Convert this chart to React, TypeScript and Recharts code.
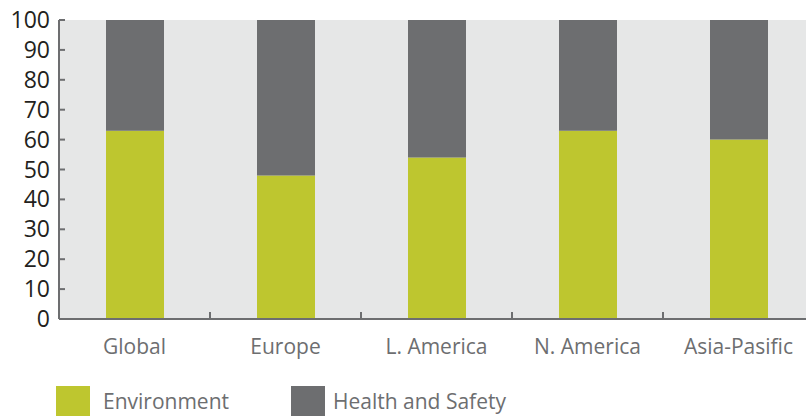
import React from "react"
import { BarChart, Bar, XAxis, YAxis, CartesianGrid, Legend } from "recharts"

const regions = ["Global", "Europe", "L. America", "N. America", "Asia-Pasific"]
const environment = [63, 48, 54, 63, 60]
const healthSafety = [37, 52, 46, 37, 40]
const yTicks = [0, 10, 20, 30, 40, 50, 60, 70, 80, 90, 100]

const series = [
  { key: "environment", name: "Environment", color: "#bec62f" },
  { key: "healthSafety", name: "Health and Safety", color: "#6d6e70" },
]

const data = regions.map((region, i) => ({
  region,
  environment: environment[i],
  healthSafety: healthSafety[i],
}))

const W = 820
const H = 416
const M = { top: 20, right: 6, left: 0, bottom: 0 }
const Y_W = 59
const bandW = (W - M.left - M.right - Y_W) / regions.length
const AXIS = "#6d6e70"
const FONT = "'Open Sans', sans-serif"

const YTick = (props: any) => {
  const { x, y, payload } = props
  return (
    <g>
      <line x1={x} x2={x + 6} y1={y} y2={y} stroke={AXIS} strokeWidth={2} />
      <text x={x - 9} y={y} dy={8} textAnchor="end" fontSize={23} fill="#231f20" fontFamily={FONT}>
        {payload.value}
      </text>
    </g>
  )
}

const XTick = (props: any) => {
  const { x, y, payload } = props
  return (
    <g>
      <line x1={x + bandW / 2} x2={x + bandW / 2} y1={y} y2={y - 7} stroke={AXIS} strokeWidth={2} />
      <text x={x} y={y + 35} textAnchor="middle" fontSize={21} fill={AXIS} fontFamily={FONT}>
        {payload.value}
      </text>
    </g>
  )
}

const LegendBox = () => (
  <div style={{ display: "flex", fontFamily: FONT, fontSize: 21, color: AXIS, height: 30 }}>
    {series.map((s, i) => (
      <div key={s.key} style={{ display: "flex", alignItems: "center", width: i === 0 ? 235 : 260 }}>
        <div style={{ width: 34, height: 30, background: s.color, marginRight: i === 0 ? 13 : 8 }} />
        <span>{s.name}</span>
      </div>
    ))}
  </div>
)

export default function App() {
  return (
    <div style={{ position: "absolute", left: 0, top: 0, width: 806, height: H, overflow: "hidden", background: "#fff" }}>
      <BarChart width={W} height={H} data={data} margin={M} barSize={58}>
        <CartesianGrid horizontal={false} vertical={false} fill="#e6e7e7" />
        <XAxis
          dataKey="region"
          height={67}
          tickLine={false}
          tickSize={0}
          tickMargin={0}
          axisLine={{ stroke: AXIS, strokeWidth: 2 }}
          tick={<XTick />}
          interval={0}
        />
        <YAxis
          width={Y_W}
          domain={[0, 100]}
          ticks={yTicks}
          tickLine={false}
          tickSize={0}
          tickMargin={0}
          axisLine={{ stroke: AXIS, strokeWidth: 2 }}
          tick={<YTick />}
          interval={0}
        />
        <Legend
          verticalAlign="bottom"
          content={<LegendBox />}
          wrapperStyle={{ left: 56, bottom: 0, height: 30, width: 600 }}
        />
        {series.map(s => (
          <Bar key={s.key} dataKey={s.key} name={s.name} stackId="a" fill={s.color} isAnimationActive={false} />
        ))}
      </BarChart>
    </div>
  )
}
